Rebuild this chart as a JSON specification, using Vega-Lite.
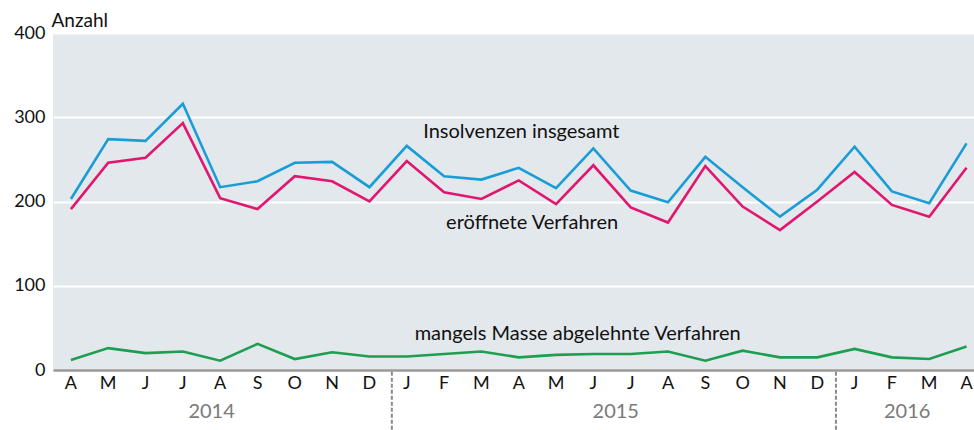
{
  "$schema": "https://vega.github.io/schema/vega-lite/v6.json",
  "width": 921,
  "height": 337,
  "autosize": {"type": "none"},
  "padding": {"left": 53, "top": 33, "right": 0, "bottom": 60},
  "background": "white",
  "config": {
    "font": "Lato",
    "view": {"fill": "#e3e8ec", "stroke": null},
    "axisX": {"labels": false, "ticks": false, "grid": false, "domainColor": "#999999", "domainWidth": 2.5, "title": null},
    "axisY": {"labelOverlap": false, "labelFontSize": 18, "labelColor": "#111111", "labelPadding": 8, "ticks": false, "domain": false, "gridColor": "white", "gridWidth": 2}
  },
  "datasets": {
    "series": [
      {"i": 0, "serie": "insgesamt", "value": 203},
      {"i": 1, "serie": "insgesamt", "value": 274},
      {"i": 2, "serie": "insgesamt", "value": 272},
      {"i": 3, "serie": "insgesamt", "value": 316},
      {"i": 4, "serie": "insgesamt", "value": 217},
      {"i": 5, "serie": "insgesamt", "value": 224},
      {"i": 6, "serie": "insgesamt", "value": 246},
      {"i": 7, "serie": "insgesamt", "value": 247},
      {"i": 8, "serie": "insgesamt", "value": 217},
      {"i": 9, "serie": "insgesamt", "value": 266},
      {"i": 10, "serie": "insgesamt", "value": 230},
      {"i": 11, "serie": "insgesamt", "value": 226},
      {"i": 12, "serie": "insgesamt", "value": 240},
      {"i": 13, "serie": "insgesamt", "value": 216},
      {"i": 14, "serie": "insgesamt", "value": 263},
      {"i": 15, "serie": "insgesamt", "value": 213},
      {"i": 16, "serie": "insgesamt", "value": 199},
      {"i": 17, "serie": "insgesamt", "value": 253},
      {"i": 18, "serie": "insgesamt", "value": 217},
      {"i": 19, "serie": "insgesamt", "value": 182},
      {"i": 20, "serie": "insgesamt", "value": 214},
      {"i": 21, "serie": "insgesamt", "value": 265},
      {"i": 22, "serie": "insgesamt", "value": 212},
      {"i": 23, "serie": "insgesamt", "value": 198},
      {"i": 24, "serie": "insgesamt", "value": 269},
      {"i": 0, "serie": "eroeffnet", "value": 191},
      {"i": 1, "serie": "eroeffnet", "value": 246},
      {"i": 2, "serie": "eroeffnet", "value": 252},
      {"i": 3, "serie": "eroeffnet", "value": 293},
      {"i": 4, "serie": "eroeffnet", "value": 204},
      {"i": 5, "serie": "eroeffnet", "value": 191},
      {"i": 6, "serie": "eroeffnet", "value": 230},
      {"i": 7, "serie": "eroeffnet", "value": 224},
      {"i": 8, "serie": "eroeffnet", "value": 200},
      {"i": 9, "serie": "eroeffnet", "value": 248},
      {"i": 10, "serie": "eroeffnet", "value": 211},
      {"i": 11, "serie": "eroeffnet", "value": 203},
      {"i": 12, "serie": "eroeffnet", "value": 225},
      {"i": 13, "serie": "eroeffnet", "value": 197},
      {"i": 14, "serie": "eroeffnet", "value": 243},
      {"i": 15, "serie": "eroeffnet", "value": 193},
      {"i": 16, "serie": "eroeffnet", "value": 175},
      {"i": 17, "serie": "eroeffnet", "value": 242},
      {"i": 18, "serie": "eroeffnet", "value": 194},
      {"i": 19, "serie": "eroeffnet", "value": 166},
      {"i": 20, "serie": "eroeffnet", "value": 200},
      {"i": 21, "serie": "eroeffnet", "value": 235},
      {"i": 22, "serie": "eroeffnet", "value": 196},
      {"i": 23, "serie": "eroeffnet", "value": 182},
      {"i": 24, "serie": "eroeffnet", "value": 240},
      {"i": 0, "serie": "abgelehnt", "value": 12},
      {"i": 1, "serie": "abgelehnt", "value": 26},
      {"i": 2, "serie": "abgelehnt", "value": 20},
      {"i": 3, "serie": "abgelehnt", "value": 22},
      {"i": 4, "serie": "abgelehnt", "value": 11},
      {"i": 5, "serie": "abgelehnt", "value": 31},
      {"i": 6, "serie": "abgelehnt", "value": 13},
      {"i": 7, "serie": "abgelehnt", "value": 21},
      {"i": 8, "serie": "abgelehnt", "value": 16},
      {"i": 9, "serie": "abgelehnt", "value": 16},
      {"i": 10, "serie": "abgelehnt", "value": 19},
      {"i": 11, "serie": "abgelehnt", "value": 22},
      {"i": 12, "serie": "abgelehnt", "value": 15},
      {"i": 13, "serie": "abgelehnt", "value": 18},
      {"i": 14, "serie": "abgelehnt", "value": 19},
      {"i": 15, "serie": "abgelehnt", "value": 19},
      {"i": 16, "serie": "abgelehnt", "value": 22},
      {"i": 17, "serie": "abgelehnt", "value": 11},
      {"i": 18, "serie": "abgelehnt", "value": 23},
      {"i": 19, "serie": "abgelehnt", "value": 15},
      {"i": 20, "serie": "abgelehnt", "value": 15},
      {"i": 21, "serie": "abgelehnt", "value": 25},
      {"i": 22, "serie": "abgelehnt", "value": 15},
      {"i": 23, "serie": "abgelehnt", "value": 13},
      {"i": 24, "serie": "abgelehnt", "value": 28}
    ],
    "months": [
      {"i": 0, "m": "A"}, {"i": 1, "m": "M"}, {"i": 2, "m": "J"}, {"i": 3, "m": "J"},
      {"i": 4, "m": "A"}, {"i": 5, "m": "S"}, {"i": 6, "m": "O"}, {"i": 7, "m": "N"},
      {"i": 8, "m": "D"}, {"i": 9, "m": "J"}, {"i": 10, "m": "F"}, {"i": 11, "m": "M"},
      {"i": 12, "m": "A"}, {"i": 13, "m": "M"}, {"i": 14, "m": "J"}, {"i": 15, "m": "J"},
      {"i": 16, "m": "A"}, {"i": 17, "m": "S"}, {"i": 18, "m": "O"}, {"i": 19, "m": "N"},
      {"i": 20, "m": "D"}, {"i": 21, "m": "J"}, {"i": 22, "m": "F"}, {"i": 23, "m": "M"},
      {"i": 24, "m": "A"}
    ],
    "labels": [
      {"i": 12.07, "value": 282, "text": "Insolvenzen insgesamt"},
      {"i": 12.36, "value": 175, "text": "eröffnete Verfahren"},
      {"i": 13.58, "value": 42.6, "text": "mangels Masse abgelehnte Verfahren"}
    ],
    "separators": [
      {"i": 8.6, "y1": -2, "y2": -72},
      {"i": 20.5, "y1": -2, "y2": -72}
    ],
    "years": [
      {"i": 3.77, "value": -49.5, "text": "2014"},
      {"i": 14.6, "value": -49.5, "text": "2015"},
      {"i": 22.41, "value": -49.5, "text": "2016"}
    ]
  },
  "layer": [
    {
      "data": {"name": "series"},
      "mark": {"type": "line", "strokeWidth": 2.6, "clip": false},
      "encoding": {
        "x": {
          "field": "i",
          "type": "quantitative",
          "scale": {"domain": [-0.48, 24.2], "nice": false, "zero": false},
          "axis": {"title": null, "labels": false}
        },
        "y": {
          "field": "value",
          "type": "quantitative",
          "scale": {"domain": [0, 400], "nice": false},
          "axis": {
            "values": [0, 100, 200, 300, 400],
            "title": "Anzahl",
            "titleAngle": 0,
            "titleAlign": "left",
            "titleBaseline": "alphabetic",
            "titleX": -2,
            "titleY": -7,
            "titleFontSize": 19,
            "titleFontWeight": "normal",
            "titleColor": "#111111",
            "grid": true
          }
        },
        "color": {
          "field": "serie",
          "type": "nominal",
          "scale": {"domain": ["insgesamt", "eroeffnet", "abgelehnt"], "range": ["#1a9dd6", "#e0166f", "#1d9e50"]},
          "legend": null
        }
      }
    },
    {
      "data": {"name": "months"},
      "mark": {"type": "text", "fontSize": 18, "color": "#111111", "align": "center", "baseline": "middle", "clip": false},
      "encoding": {
        "x": {"field": "i", "type": "quantitative"},
        "y": {"datum": -16.5, "type": "quantitative"},
        "text": {"field": "m"}
      }
    },
    {
      "data": {"name": "labels"},
      "mark": {"type": "text", "fontSize": 20, "color": "#111111", "align": "center", "baseline": "middle", "clip": false},
      "encoding": {
        "x": {"field": "i", "type": "quantitative"},
        "y": {"field": "value", "type": "quantitative"},
        "text": {"field": "text"}
      }
    },
    {
      "data": {"name": "separators"},
      "mark": {"type": "rule", "color": "#8a8a8a", "strokeWidth": 2, "strokeDash": [4, 2], "clip": false},
      "encoding": {
        "x": {"field": "i", "type": "quantitative"},
        "y": {"field": "y1", "type": "quantitative"},
        "y2": {"field": "y2"}
      }
    },
    {
      "data": {"name": "years"},
      "mark": {"type": "text", "fontSize": 20, "color": "#7a7a7a", "align": "center", "baseline": "middle", "clip": false},
      "encoding": {
        "x": {"field": "i", "type": "quantitative"},
        "y": {"field": "value", "type": "quantitative"},
        "text": {"field": "text"}
      }
    }
  ]
}
